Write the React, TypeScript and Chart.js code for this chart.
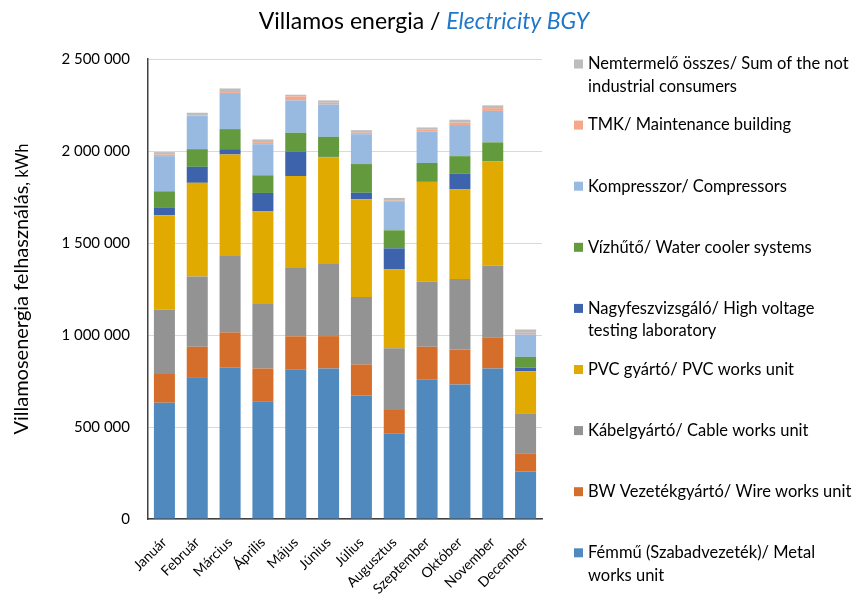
import React, { useEffect, useRef } from "react";
import { Chart, registerables } from "chart.js";

Chart.register(...registerables);

const months = ["Január", "Február", "Március", "Április", "Május", "Június", "Július", "Augusztus", "Szeptember", "Október", "November", "December"];

const metal = [632000, 767000, 823000, 640000, 811000, 818000, 671000, 464000, 760000, 731000, 818000, 258000];
const wire = [156000, 169000, 191000, 178000, 182000, 176000, 169000, 133000, 176000, 191000, 169000, 96000];
const cable = [351000, 382000, 420000, 354000, 371000, 396000, 367000, 331000, 353000, 382000, 391000, 220000];
const pvc = [511000, 509000, 547000, 500000, 500000, 576000, 531000, 429000, 543000, 487000, 565000, 229000];
const hv = [44000, 87000, 29000, 100000, 131000, 2000, 35000, 114000, 3000, 85000, 2000, 20000];
const water = [87000, 96000, 109000, 96000, 104000, 109000, 156000, 98000, 100000, 96000, 102000, 58000];
const comp = [191000, 180000, 196000, 169000, 176000, 176000, 162000, 158000, 171000, 169000, 171000, 122000];
const tmk = [9000, 3000, 5000, 11000, 22000, 9000, 9000, 3000, 11000, 13000, 15000, 9000];
const nem = [13000, 15000, 20000, 15000, 9000, 13000, 13000, 15000, 11000, 16000, 15000, 18000];

const yTicks = [0, 500000, 1000000, 1500000, 2000000, 2500000];

const seriesNames = [
  ["Fémmű (Szabadvezeték)/ Metal", "works unit"],
  ["BW Vezetékgyártó/ Wire works unit"],
  ["Kábelgyártó/ Cable works unit"],
  ["PVC gyártó/ PVC works unit"],
  ["Nagyfeszvizsgáló/ High voltage", "testing laboratory"],
  ["Vízhűtő/ Water cooler systems"],
  ["Kompresszor/ Compressors"],
  ["TMK/ Maintenance building"],
  ["Nemtermelő összes/ Sum of the not", "industrial consumers"],
];
const seriesData = [metal, wire, cable, pvc, hv, water, comp, tmk, nem];
const seriesColors = ["#4F89BE", "#D46E2A", "#939393", "#E0AA00", "#3D63AD", "#639A3D", "#98B9E0", "#F4A889", "#BDBDBD"];

const titleMain = "Villamos energia / ";
const titleItalic = "Electricity BGY";
const yTitleMain = "Villamosenergia felhasználás";
const yTitleUnit = ", kWh";

const FONT = "Lato";

const fmt = (v: number) => String(v).replace(/\B(?=(\d{3})+(?!\d))/g, " ");

const overlay = {
  id: "overlay",
  afterDraw(chart: any) {
    const ctx = chart.ctx as CanvasRenderingContext2D;
    const area = chart.chartArea;
    ctx.save();
    // Title
    ctx.textBaseline = "middle";
    ctx.font = `23px ${FONT}`;
    const w1 = ctx.measureText(titleMain).width;
    ctx.font = `italic 23px ${FONT}`;
    const w2 = ctx.measureText(titleItalic).width;
    const tx = 424 - (w1 + w2) / 2;
    ctx.font = `23px ${FONT}`;
    ctx.fillStyle = "#000";
    ctx.textAlign = "left";
    ctx.fillText(titleMain, tx, 22);
    ctx.font = `italic 23px ${FONT}`;
    ctx.fillStyle = "#1F78C8";
    ctx.fillText(titleItalic, tx + w1, 22);

    // Y axis title
    ctx.save();
    ctx.translate(21, (area.top + area.bottom) / 2);
    ctx.rotate(-Math.PI / 2);
    ctx.font = `20px ${FONT}`;
    const a = ctx.measureText(yTitleMain).width;
    ctx.font = `16.5px ${FONT}`;
    const b = ctx.measureText(yTitleUnit).width;
    const sx = -(a + b) / 2;
    ctx.fillStyle = "#000";
    ctx.textBaseline = "alphabetic";
    ctx.font = `20px ${FONT}`;
    ctx.fillText(yTitleMain, sx, 7);
    ctx.font = `16.5px ${FONT}`;
    ctx.fillText(yTitleUnit, sx + a, 7);
    ctx.restore();

    // Legend (top to bottom = reverse stacking order)
    ctx.font = `16.5px ${FONT}`;
    ctx.textBaseline = "middle";
    const n = seriesNames.length;
    for (let i = 0; i < n; i++) {
      const idx = n - 1 - i;
      const y = 64 + i * 61.1;
      ctx.fillStyle = seriesColors[idx];
      ctx.fillRect(574, y - 4.5, 9, 9);
      ctx.fillStyle = "#000";
      seriesNames[idx].forEach((line, j) => {
        ctx.fillText(line, 588, y + j * 22.7);
      });
    }
    ctx.restore();
  },
};

export default function App() {
  const ref = useRef<HTMLCanvasElement | null>(null);
  useEffect(() => {
    document.body.style.margin = "0";
    if (!ref.current) return;
    const chart = new Chart(ref.current, {
      type: "bar",
      data: {
        labels: months,
        datasets: seriesData.map((d, i) => ({
          label: seriesNames[i].join(" "),
          data: d,
          backgroundColor: seriesColors[i],
          borderWidth: 0,
          barPercentage: 0.64,
          categoryPercentage: 1,
        })),
      },
      options: {
        responsive: false,
        animation: false,
        layout: { padding: { left: 0, right: 311, top: 59, bottom: 0 } },
        plugins: {
          legend: { display: false },
          title: { display: false },
          tooltip: { enabled: false },
        },
        scales: {
          x: {
            stacked: true,
            grid: { display: false },
            border: { display: true, color: "#404040", width: 1.5 },
            ticks: {
              color: "#000",
              font: { family: FONT, size: 14 },
              minRotation: 45,
              maxRotation: 45,
              padding: 7,
              autoSkip: false,
            },
            afterFit: (s: any) => {
              s.height = 75;
            },
          },
          y: {
            stacked: true,
            min: 0,
            max: 2500000,
            afterBuildTicks: (s: any) => {
              s.ticks = yTicks.map((v) => ({ value: v }));
            },
            grid: { color: "#D9D9D9", drawTicks: false, lineWidth: 1 },
            border: { display: true, color: "#404040", width: 1.5 },
            ticks: {
              color: "#000",
              font: { family: FONT, size: 15 },
              padding: 18,
              callback: (v: any) => fmt(Number(v)),
            },
            afterFit: (s: any) => {
              s.width = 148;
            },
          },
        },
      },
      plugins: [overlay],
    });
    return () => chart.destroy();
  }, []);
  return (
    <div style={{ width: 853, height: 594 }}>
      <canvas ref={ref} width={853} height={594} style={{ display: "block" }} />
    </div>
  );
}
